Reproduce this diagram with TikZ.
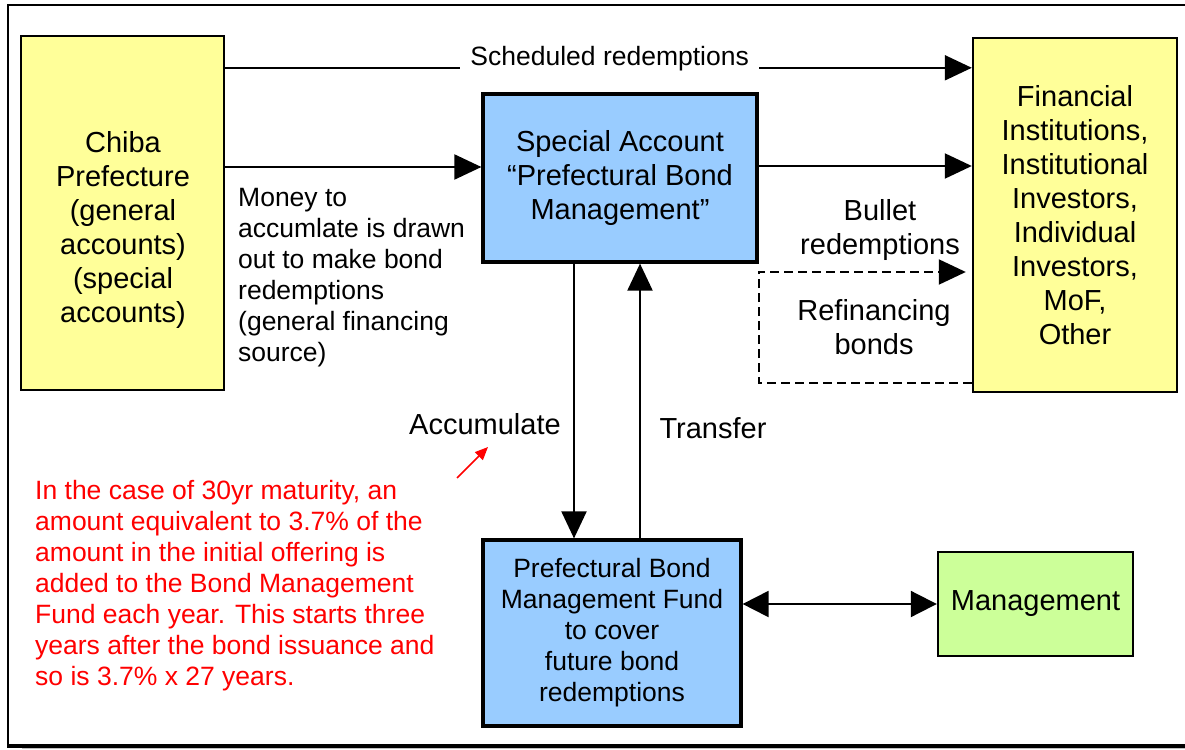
\documentclass[tikz,border=0pt]{standalone}
\usepackage{fontspec}
\setmainfont{Liberation Sans}
\usepackage{xcolor}
\usetikzlibrary{arrows.meta}

\definecolor{boxyellow}{HTML}{FFFF99}
\definecolor{boxblue}{HTML}{99CCFF}
\definecolor{boxgreen}{HTML}{CCFF99}
\newcommand{\diaglarge}{\fontsize{29}{34}\selectfont}
\newcommand{\diagsmall}{\fontsize{26.5}{31}\selectfont}

\tikzset{
  yellowbox/.style={draw, line width=2.4pt, fill=boxyellow, inner sep=0pt, align=center, font=\diaglarge},
  bluebox/.style={draw, line width=3.2pt, fill=boxblue, inner sep=0pt, align=center, font=\diaglarge},
  greenbox/.style={draw, line width=2.4pt, fill=boxgreen, inner sep=0pt, align=center, font=\diaglarge},
  boxtext/.style={align=center, font=\diaglarge, inner sep=0pt},
  flow/.style={line width=2pt, -{Triangle[length=27pt,width=25pt]}},
  bothflow/.style={line width=2pt, {Triangle[length=26pt,width=26pt]}-{Triangle[length=26pt,width=26pt]}},
  dashflow/.style={line width=2pt, dash pattern=on 9pt off 5pt, -{Triangle[length=27pt,width=25pt]}},
}

\begin{document}
\begin{tikzpicture}[x=1pt, y=-1pt]
\useasboundingbox (0,0) rectangle (1185,749);
% page frame
\draw[line width=2pt] (7,5) -- (1185,5);
\draw[line width=2pt] (8,5) -- (8,746);
\draw[line width=3.5pt] (7,746) -- (1185,746);
\fill[black!25] (22,747.8) rectangle (1185,749);
% prefecture box, text sits low in it
\node[yellowbox, minimum width=203pt, minimum height=354pt] (chiba) at (122.5,213) {};
\node[boxtext] (chibatext) at (123,230) {Chiba\\Prefecture\\(general\\accounts)\\(special\\accounts)};
% special account and investors
\node[bluebox, minimum width=274pt, minimum height=168pt] (special) at (620,178) {Special Account\\“Prefectural Bond\\Management”};
\node[yellowbox, minimum width=204pt, minimum height=354pt] (fin) at (1075,215) {Financial\\Institutions,\\Institutional\\Investors,\\Individual\\Investors,\\MoF,\\Other};
% fund and management
\node[bluebox, font=\diagsmall, minimum width=258pt, minimum height=186pt] (fund) at (612,633) {Prefectural Bond\\Management Fund\\to cover\\future bond\\redemptions};
\node[greenbox, minimum width=195pt, minimum height=104pt] (mgmt) at (1035.5,604) {Management};
% flows along the top
\draw[flow] ([yshift=-33pt]chiba.north east) -- node[pos=0.515, fill=white, font=\diagsmall, yshift=9pt, inner xsep=10pt] (sched) {Scheduled redemptions} ([yshift=-31pt]fin.north west);
\draw[flow] ([yshift=46pt]chiba.east) -- ([yshift=11pt]special.west);
\draw[flow] ([yshift=12pt]special.east) -- ([yshift=49pt]fin.west);
\node[boxtext] (bullet) at (880,230) {Bullet\\redemptions};
% refinancing loop, dashed
\draw[dashflow] ([yshift=-168pt]fin.west) -- ([yshift=-205pt]special.east) -- ([yshift=-94pt]special.east) -- ([xshift=-6pt,yshift=-57pt]fin.west);
\node[boxtext] (refin) at (874,327) {Refinancing\\bonds};
% money text under the prefecture arrow
\node[anchor=west, align=left, font=\diagsmall, inner sep=0pt] (money) at (238,278) {Money to\\accumlate is drawn\\out to make bond\\redemptions\\(general financing\\source)};
% accumulate and transfer
\draw[flow] ([xshift=-46pt]special.south) -- ([xshift=-38pt]fund.north);
\draw[flow] ([xshift=28pt]fund.north) -- ([xshift=20pt]special.south);
\node[boxtext] (acclabel) at (485,424) {Accumulate};
\node[boxtext] (translabel) at (713,428) {Transfer};
\draw[bothflow] ([yshift=29pt]fund.east) -- (mgmt.west);
% red note
\node[anchor=west, align=left, font=\diagsmall, text=red, inner sep=0pt] (note) at (35,586) {In the case of 30yr maturity, an\\amount equivalent to 3.7\% of the\\amount in the initial offering is\\added to the Bond Management\\Fund each year. This starts three\\years after the bond issuance and\\so is 3.7\% x 27 years.};
\coordinate (redtail) at (457,478);
\coordinate (redhead) at (488,447);
\draw[red, line width=1.6pt, -{Triangle[length=13pt,width=11pt]}] (redtail) -- (redhead);
\end{tikzpicture}
\end{document}
